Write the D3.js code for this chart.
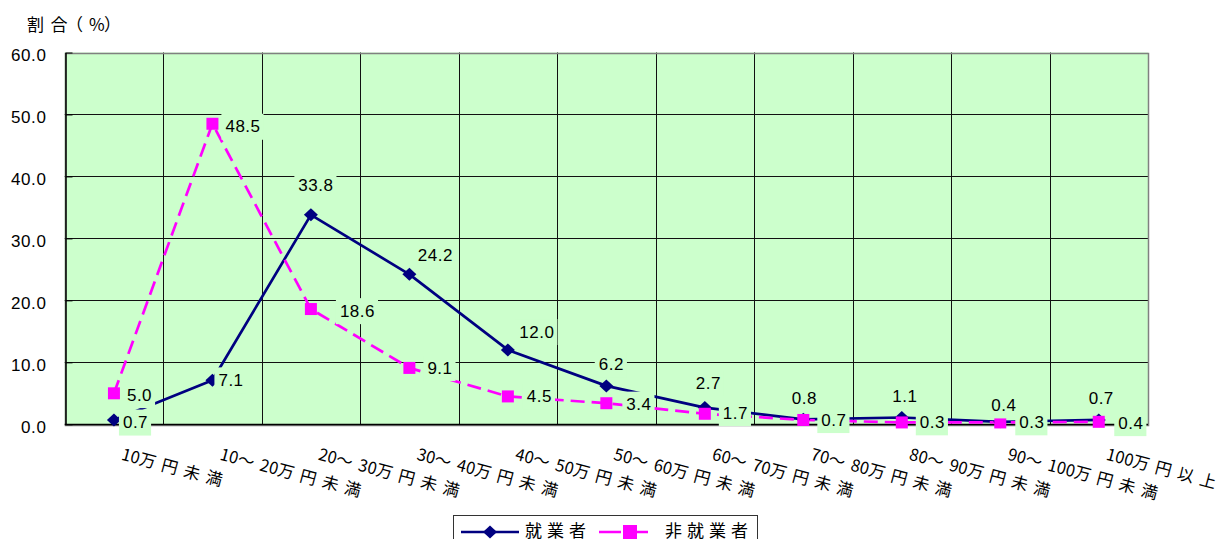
<!DOCTYPE html>
<html>
<head>
<meta charset="utf-8">
<script src="https://cdn.jsdelivr.net/npm/d3@7"></script>
<style>
  html, body { margin: 0; padding: 0; background: #fff; }
  svg { display: block; }
  .num { font-family: "Liberation Sans", Arial, sans-serif; fill: #000; }
  .jp { font-family: "Noto Sans CJK JP", "Noto Sans", sans-serif; fill: #000; }
</style>
</head>
<body>
<svg id="chart" width="1219" height="539"></svg>
<script>
// Income brackets (monthly) and share of persons in each bracket (%)
const categories = [
  "10万円未満", "10～20万円未満", "20～30万円未満", "30～40万円未満",
  "40～50万円未満", "50～60万円未満", "60～70万円未満", "70～80万円未満",
  "80～90万円未満", "90～100万円未満", "100万円以上"
];
const employed    = [0.7, 7.1, 33.8, 24.2, 12.0, 6.2, 2.7, 0.8, 1.1, 0.4, 0.7];
const nonEmployed = [5.0, 48.5, 18.6, 9.1, 4.5, 3.4, 1.7, 0.7, 0.3, 0.3, 0.4];
const yTicks = [0, 10, 20, 30, 40, 50, 60];
const seriesNames = ["就業者", "非就業者"];
const yTitle = "割合（%）";

// Where each value label sits relative to its point:
// "right" -> [gap from point to text start, vertical shift of text centre]
// "above" -> [horizontal shift of text centre, vertical shift of text centre]
const employedLabelSide = ["right", "right", "above", "above", "above", "above",
                           "above", "above", "above", "above", "above"];
const employedLabelShift = [[9, 2], [6, -0.5], [5, -30], [26, -19], [29, -18.5], [5, -22],
                            [3.5, -24.5], [1, -21], [3, -21.5], [3.5, -17], [2.5, -22]];
const nonEmployedLabelSide = employedLabelSide.map(() => "right");
const nonEmployedLabelShift = [[13, 1.2], [13, 2.4], [29, 1.5], [18, -0.4], [19, -0.4], [20, 0.8],
                               [18, -1.3], [18, -0.5], [18, -0.7], [19, -0.7], [19.5, 0.7]];

const plotBg = "#CCFFCC";
const navy = "#000080";
const magenta = "#FF00FF";

const svg = d3.select("#chart");
const plot = { left: 64.7, right: 1148, top: 52.5, bottom: 424.3 };

const x = d3.scaleBand().domain(categories).range([plot.left, plot.right]);
const y = d3.scaleLinear().domain([0, 60]).range([plot.bottom, plot.top]);
const cx = c => x(c) + x.bandwidth() / 2;

// Plot area background
svg.append("rect")
  .attr("x", plot.left).attr("y", plot.top)
  .attr("width", plot.right - plot.left).attr("height", plot.bottom - plot.top)
  .attr("fill", plotBg);

// Horizontal gridlines
svg.append("g").selectAll("line")
  .data(yTicks.filter(t => t > 0 && t < 60))
  .join("line")
  .attr("x1", plot.left).attr("x2", plot.right)
  .attr("y1", d => Math.round(y(d)) + 0.5).attr("y2", d => Math.round(y(d)) + 0.5)
  .attr("stroke", "#111").attr("stroke-width", 1);

// Vertical gridlines between categories
svg.append("g").selectAll("line")
  .data(categories.slice(1))
  .join("line")
  .attr("x1", d => Math.round(x(d)) + 0.5).attr("x2", d => Math.round(x(d)) + 0.5)
  .attr("y1", plot.top).attr("y2", plot.bottom)
  .attr("stroke", "#111").attr("stroke-width", 1);

// Plot border (top / right in grey)
svg.append("rect")
  .attr("x", Math.round(plot.left) + 0.5).attr("y", Math.round(plot.top) + 0.5)
  .attr("width", Math.round(plot.right - plot.left)).attr("height", Math.round(plot.bottom - plot.top))
  .attr("fill", "none").attr("stroke", "#808080").attr("stroke-width", 1.5);

// Y axis
const yAxis = d3.axisLeft(y).tickValues(yTicks).tickFormat(d3.format(".1f"))
  .tickSizeInner(-7).tickSizeOuter(0).tickPadding(19);
const gy = svg.append("g").attr("transform", `translate(${Math.round(plot.left) + 0.5},0)`).call(yAxis);
gy.select(".domain").attr("stroke", "#000").attr("stroke-width", 1.5);
gy.selectAll(".tick line").attr("stroke", "#000");
gy.selectAll(".tick text")
  .attr("class", "num").attr("font-size", 17).attr("dy", "0.46em")
  .style("letter-spacing", "0.6px");

// X axis baseline
svg.append("line")
  .attr("x1", plot.left).attr("x2", plot.right)
  .attr("y1", Math.round(plot.bottom) + 0.5).attr("y2", Math.round(plot.bottom) + 0.5)
  .attr("stroke", "#000").attr("stroke-width", 1.5);

// Text runs: full-width characters get extra tracking, half-width ones none
function addRuns(sel, str, spacing) {
  const runs = [];
  for (const ch of str) {
    const wide = ch.charCodeAt(0) > 255;
    if (runs.length && runs[runs.length - 1].wide === wide) runs[runs.length - 1].s += ch;
    else runs.push({ wide, s: ch });
  }
  runs.forEach(r => {
    sel.append("tspan").text(r.s).style("letter-spacing", (r.wide ? spacing : 0) + "px");
  });
}

// Category labels, slanted
const xLabels = svg.append("g");
categories.forEach(c => {
  const t = xLabels.append("text")
    .attr("class", "jp").attr("font-size", 16.5)
    .attr("transform", `translate(${cx(c) + 6.5},459.5) rotate(15)`);
  addRuns(t, c, 6.5);
});

// Axis title
const title = svg.append("text").attr("class", "jp").attr("font-size", 17)
  .attr("x", 27).attr("y", 31)
  .style("font-feature-settings", "'palt'");
addRuns(title, yTitle, 6.5);

// Series lines
const line = d3.line().x((d, i) => cx(categories[i])).y(d => y(d));
svg.append("path").datum(employed)
  .attr("d", line).attr("fill", "none")
  .attr("stroke", navy).attr("stroke-width", 2.7).attr("stroke-linejoin", "round");
svg.append("path").datum(nonEmployed)
  .attr("d", line).attr("fill", "none")
  .attr("stroke", magenta).attr("stroke-width", 2.7)
  .attr("stroke-dasharray", "14,7");

// Markers
const diamond = (w, h) => `M0,${-h}L${w},0L0,${h}L${-w},0Z`;
svg.append("g").selectAll("path")
  .data(employed).join("path")
  .attr("transform", (d, i) => `translate(${cx(categories[i])},${y(d)})`)
  .attr("d", diamond(7, 6.5)).attr("fill", navy);
svg.append("g").selectAll("rect")
  .data(nonEmployed).join("rect")
  .attr("x", (d, i) => cx(categories[i]) - 6).attr("y", d => y(d) - 6)
  .attr("width", 12).attr("height", 12).attr("fill", magenta);

// Value labels with plot-coloured backing boxes
function drawLabels(values, sides, shifts) {
  const g = svg.append("g");
  values.forEach((v, i) => {
    const px = cx(categories[i]), py = y(v);
    const [dx, dy] = shifts[i];
    const side = sides[i];
    const box = g.append("rect").attr("fill", plotBg);
    const t = g.append("text")
      .attr("class", "num").attr("font-size", 17)
      .style("letter-spacing", "0.5px")
      .attr("text-anchor", side === "right" ? "start" : "middle")
      .attr("x", px + dx)
      .attr("y", py + dy + 6.1)
      .text(d3.format(".1f")(v));
    const bb = t.node().getBBox();
    box.attr("x", bb.x - 4).attr("y", bb.y - 3.5)
      .attr("width", bb.width + 7).attr("height", bb.height + 7);
  });
}
drawLabels(employed, employedLabelSide, employedLabelShift);
drawLabels(nonEmployed, nonEmployedLabelSide, nonEmployedLabelShift);

// Legend
const legend = svg.append("g");
legend.append("rect")
  .attr("x", 453.5).attr("y", 515.5).attr("width", 304).attr("height", 40)
  .attr("fill", "#fff").attr("stroke", "#333").attr("stroke-width", 1);
const legendItems = [
  { name: seriesNames[0], color: navy, dash: null, marker: "diamond", x1: 461, x2: 519, mx: 490, tx: 525 },
  { name: seriesNames[1], color: magenta, dash: "22,12", marker: "square", x1: 599, x2: 648, mx: 630, tx: 665 }
];
legendItems.forEach(it => {
  legend.append("line")
    .attr("x1", it.x1).attr("x2", it.x2).attr("y1", 532).attr("y2", 532)
    .attr("stroke", it.color).attr("stroke-width", 2.7)
    .attr("stroke-dasharray", it.dash);
  if (it.marker === "diamond") {
    legend.append("path").attr("transform", `translate(${it.mx},532)`)
      .attr("d", diamond(7, 6.5)).attr("fill", it.color);
  } else {
    legend.append("rect").attr("x", it.mx - 7).attr("y", 525).attr("width", 14).attr("height", 14)
      .attr("fill", it.color);
  }
  const t = legend.append("text").attr("class", "jp").attr("font-size", 17)
    .attr("x", it.tx).attr("y", 537);
  addRuns(t, it.name, 5);
});
</script>
</body>
</html>
